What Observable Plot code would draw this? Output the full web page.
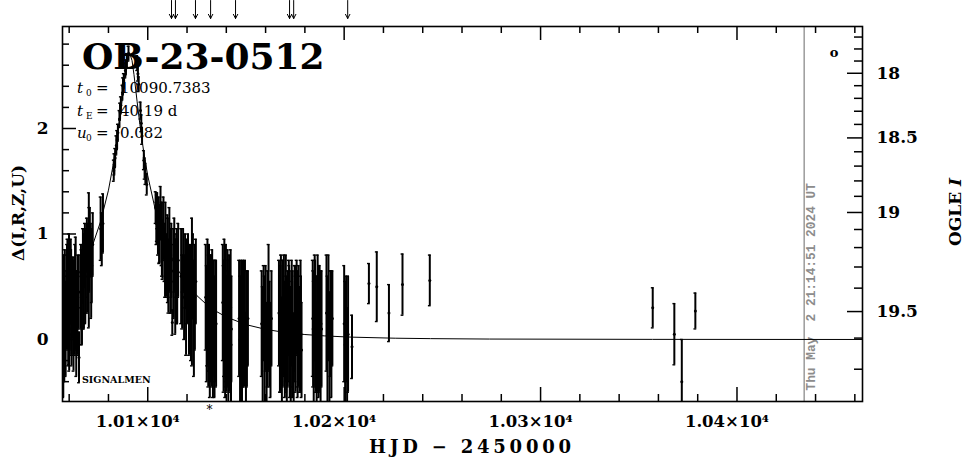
<!DOCTYPE html>
<html><head><meta charset="utf-8">
<script src="https://cdn.jsdelivr.net/npm/d3@7"></script>
<script src="https://cdn.jsdelivr.net/npm/@observablehq/plot@0.6"></script>
<style>html,body{margin:0;padding:0;background:#fff}svg{display:block}</style>
</head><body><div id="chart"></div>
<script>
// ---------- data (HJD-2450000, Delta, error) ----------
const obsT = [
 10056.9,10057.0,10057.3,10057.8,10058.2,10058.6,10059.1,10059.5,10059.9,10060.3,10060.8,10061.2,10061.6,10062.0,10062.5,10062.9,10063.3,10063.8,10064.2,10065.0,
 10065.6,10066.0,10066.5,10067.0,10067.5,10068.0,10068.5,10069.0,10069.5,10070.0,10070.5,10071.0,10071.5,10072.0,
 10076.0,10076.6,10077.2,
 10082.7,10083.4,10084.0,10084.8,10085.6,10086.3,10087.1,10087.8,10088.6,10089.4,10090.2,
 10094.6,10095.4,10096.3,10097.1,10098.0,10098.8,10099.5,
 10104.0,10104.4,10104.8,10105.2,10105.6,10106.0,10106.5,10107.0,10107.5,10108.0,10108.5,10109.0,10109.5,10110.0,10110.5,10111.0,10111.5,10112.0,10112.5,10113.0,10113.5,10114.0,10114.5,10115.0,10115.5,
 10117.0,10117.5,10118.0,10118.5,10119.0,10119.5,10120.0,10120.5,10121.0,10121.5,10122.0,10122.5,10123.0,10123.5,10124.0,10124.5,
 10129.5,10130.0,10130.4,10130.8,10131.2,10131.6,10132.0,10132.4,10132.8,10133.2,10133.6,10134.0,10134.4,10134.8,
 10138.2,10138.6,10139.0,10139.4,10139.8,10140.2,10140.6,10141.0,10141.4,10141.8,10142.2,10142.6,
 10146.5,10147.0,10147.5,10148.0,10148.5,10149.0,10149.5,10150.0,10150.5,10151.0,
 10158.0,10158.5,10159.0,10159.5,10160.0,10160.5,10161.0,10161.5,10162.0,10162.5,10163.0,
 10166.8,10167.3,10167.8,10168.3,10168.8,10169.3,10169.8,10170.3,10170.8,10171.3,10171.8,10172.3,10172.8,10173.3,10173.8,10174.3,10174.8,10175.3,10175.8,10176.3,10176.8,10177.3,10177.8,10178.3,
 10184.0,10184.5,10185.0,10185.5,10186.0,10186.5,10187.0,10187.5,10188.0,10188.5,
 10191.0,10191.5,10192.0,10192.5,10193.0,10193.5,10194.0,
 10200.0,10200.5,10201.0,10201.5,10202.0,
 10204.0,10212.6,10216.6,10222.8,10229.7,10243.6,10357.1,10368.1,10371.9,10378.8,
 10057.5,10058.9,10060.0,10061.0,10062.2,10063.0,10063.6,10064.5,
 10066.2,10067.2,10068.2,10069.2,10070.2,10071.2,
 10104.6,10105.8,10107.2,10108.8,10110.2,10111.8,10113.2,10114.8,
 10130.2,10131.0,10132.2,10133.0,10134.2,
 10138.8,10139.6,10140.8,10141.6,10142.4,
 10167.5,10169.0,10170.5,10172.0,10173.5,10175.0,10176.5,10178.0,
 10184.2,10185.2,10186.2,10187.2,10188.2,
 10083.0,10084.4,10085.9,10087.4,10088.9,10095.0,10096.7,10098.4
];
const obsD = [
 0.35,-0.15,0.20,0.45,0.10,0.30,0.50,0.15,0.38,0.25,0.55,0.05,0.40,0.30,0.48,0.20,0.55,0.35,0.25,-0.17,
 0.45,0.60,0.35,0.70,0.55,0.80,0.65,0.90,0.75,0.75,0.95,0.85,0.70,0.90,
 1.05,0.95,1.10,
 1.60,1.72,1.84,1.96,2.09,2.22,2.34,2.45,2.55,2.64,2.71,
 2.62,2.42,2.17,1.93,1.70,1.57,1.47,
 1.25,1.10,1.22,1.05,1.15,0.95,1.20,1.00,0.85,1.05,0.80,0.95,0.70,0.90,0.60,0.85,0.55,0.75,0.16,0.65,0.80,0.50,0.70,0.55,0.75,
 0.60,0.45,0.75,0.40,0.65,0.30,0.55,0.70,0.35,0.50,0.25,0.45,0.60,0.20,0.40,0.55,
 0.40,0.15,0.45,0.05,0.30,-0.10,0.35,0.10,0.45,-0.05,0.25,0.00,0.30,0.15,
 0.35,0.10,0.45,-0.05,0.25,0.05,0.40,-0.15,0.20,0.00,0.30,0.10,
 0.20,0.00,0.30,-0.10,0.15,0.05,0.25,-0.20,0.10,0.20,
 0.15,-0.05,0.25,0.00,0.20,-0.15,0.10,0.30,0.05,-0.10,0.20,
 0.25,0.05,0.35,-0.10,0.15,0.30,0.00,0.20,-0.15,0.10,0.30,0.05,-0.05,0.25,0.10,-0.20,0.20,0.05,0.30,-0.05,0.15,0.00,0.25,-0.10,
 0.20,-0.05,0.30,0.05,-0.15,0.20,0.00,0.25,-0.10,0.10,
 0.25,0.00,0.30,-0.10,0.15,0.05,0.20,
 0.15,-0.05,0.10,-0.20,0.05,
 -0.07,0.53,0.50,0.25,0.52,0.56,0.30,0.05,-0.40,0.27,
 0.05,0.40,0.10,0.35,0.15,0.40,0.10,0.45,
 0.40,0.50,0.60,0.65,0.85,0.60,
 1.15,1.00,0.95,0.75,0.75,0.65,0.55,0.60,
 0.20,0.25,0.20,0.20,0.10,
 0.20,0.15,0.10,0.25,-0.05,
 0.10,0.20,0.05,0.15,0.00,0.15,0.10,0.05,
 0.10,0.15,0.05,0.10,0.15,
 1.66,1.89,2.16,2.40,2.58,2.52,2.05,1.62
];
const obsE = [
 0.45,0.40,0.50,0.40,0.45,0.35,0.45,0.40,0.62,0.35,0.40,0.30,0.38,0.45,0.30,0.35,0.42,0.30,0.40,0.24,
 0.35,0.30,0.40,0.35,0.45,0.30,0.40,0.25,0.35,0.64,0.30,0.25,0.35,0.30,
 0.30,0.25,0.28,
 0.10,0.09,0.09,0.08,0.08,0.08,0.07,0.07,0.07,0.07,0.07,
 0.07,0.07,0.08,0.08,0.09,0.10,0.10,
 0.15,0.20,0.17,0.25,0.20,0.22,0.25,0.30,0.28,0.30,0.25,0.35,0.30,0.28,0.35,0.40,0.30,0.35,0.12,0.40,0.35,0.45,0.30,0.40,0.35,
 0.45,0.35,0.30,0.40,0.35,0.45,0.40,0.30,0.50,0.40,0.45,0.70,0.40,0.55,0.50,0.40,
 0.50,0.55,0.50,0.50,0.60,0.45,0.45,0.55,0.40,0.50,0.50,0.55,0.45,0.60,
 0.55,0.60,0.50,0.50,0.65,0.55,0.45,0.45,0.60,0.50,0.55,0.50,
 0.55,0.60,0.45,0.55,0.60,0.50,0.50,0.45,0.55,0.45,
 0.50,0.55,0.45,0.60,0.50,0.50,0.55,0.60,0.50,0.45,0.45,
 0.50,0.55,0.45,0.50,0.60,0.50,0.55,0.60,0.50,0.55,0.45,0.60,0.55,0.50,0.55,0.45,0.50,0.55,0.45,0.50,0.55,0.50,0.50,0.45,
 0.55,0.60,0.50,0.55,0.50,0.60,0.55,0.45,0.50,0.55,
 0.55,0.60,0.50,0.55,0.50,0.60,0.45,
 0.55,0.60,0.50,0.50,0.55,
 0.30,0.19,0.33,0.27,0.29,0.24,0.19,0.29,0.40,0.17,
 0.45,0.50,0.40,0.50,0.45,0.50,0.45,0.35,
 0.45,0.40,0.45,0.40,0.40,0.40,
 0.22,0.28,0.35,0.35,0.40,0.40,0.35,0.45,
 0.45,0.55,0.60,0.55,0.50,
 0.55,0.60,0.55,0.50,0.55,
 0.60,0.55,0.55,0.55,0.55,0.55,0.55,0.55,
 0.55,0.60,0.55,0.60,0.50,
 0.10,0.09,0.08,0.08,0.07,0.07,0.08,0.10
];
// model curve
const modelT = [10056.6,10060,10064,10068,10072,10076,10080,10083,10086,10088,10089.5,10090.74,10092,10093,10094.6,10096,10098,10100,10104,10108,10112,10116,10120,10125,10130,10135,10140,10150,10160,10170,10180,10190,10200,10204,10226,10244,10274,10357,10464];
const modelD = [0.418,0.491,0.597,0.729,0.898,1.118,1.415,1.716,2.115,2.435,2.647,2.718,2.645,2.510,2.254,2.038,1.772,1.553,1.217,0.972,0.786,0.642,0.528,0.416,0.331,0.265,0.213,0.141,0.096,0.066,0.047,0.034,0.025,0.022,0.012,0.008,0.004,0.001,0.000];
// arrows on top, star, current time
const arrowT = [10112.1,10114.1,10124.3,10132.0,10144.7,10172.2,10174.3,10201.8];
const starT = [10131.5];
const nowT = [10434.2];
const nowLabel = "Thu May  2 21:14:51 2024 UT";
// axes
const xMinor = [10060,10080,10120,10140,10160,10180,10220,10240,10260,10280,10320,10340,10360,10380,10420,10440,10460];
const xMajor = [10100,10200,10300,10400];
const xMajorLabels = ["1.01×10⁴","1.02×10⁴","1.03×10⁴","1.04×10⁴"];
const yMinor = [-0.4,-0.2,0.2,0.4,0.6,0.8,1.2,1.4,1.6,1.8,2.2,2.4,2.6,2.8];
const yMajor = [0,1,2];
const iMinor = [17.7,17.8,17.9,18.1,18.2,18.3,18.4,18.6,18.7,18.8,18.9,19.1,19.2,19.3,19.4,19.6,19.7];
const iMajor = [18,18.5,19,19.5];
const iMajorLabels = ["18","18.5","19","19.5"];
// OGLE I <-> Delta relation (source / blend flux relative to I = 19.5)
const iRef = 19.5, fSrc = 0.3333, fBlend = 0.5747;
const iToDelta = I => 2.5*Math.log10((Math.pow(10,-0.4*(I-iRef)) - fBlend)/fSrc);

// ---------- layout ----------
const W = 965, H = 459, mL = 62, mR = 103, mT = 26, mB = 58;
const xDom = [10056.6, 10463.9], yDom = [-0.588, 2.967];
const dxPx = (xDom[1]-xDom[0])/(W-mL-mR);
const dyPx = (yDom[1]-yDom[0])/(H-mT-mB);

const obs = obsT.map((t,i)=>({t, d: obsD[i], e: obsE[i]}));
const caps = obs.flatMap(o=>[{t:o.t, y:o.d-o.e},{t:o.t, y:o.d+o.e}]);
const model = modelT.map((t,i)=>({t, d: modelD[i]}));

const FONT = "DejaVu Serif";
const chart = Plot.plot({
  width: W, height: H,
  marginLeft: mL, marginRight: mR, marginTop: mT, marginBottom: mB,
  x: {domain: xDom, axis: null},
  y: {domain: yDom, axis: null},
  style: {fontFamily: FONT, background: "#fff", overflow: "visible"},
  marks: [
    Plot.ruleX(nowT, {x: d=>d, stroke: "#8c8c8c", strokeWidth: 1.3}),
    Plot.text(nowT, {x: d=>d, y: yDom[0], text: ()=>nowLabel, rotate: -90, textAnchor: "start", dx: 7, dy: -11, fill: "#8c8c8c", fontFamily: "Liberation Mono", fontWeight: "bold", fontSize: 12.8}),
    Plot.line(model, {x: "t", y: "d", stroke: "#000", strokeWidth: 1, clip: true}),
    Plot.ruleX(obs, {x: "t", y1: d=>d.d-d.e, y2: d=>d.d+d.e, stroke: "#000", strokeWidth: 2, clip: true}),
    Plot.ruleY(caps, {y: "y", x1: d=>d.t-1.4*dxPx, x2: d=>d.t+1.4*dxPx, stroke: "#000", strokeWidth: 1.4, clip: true}),
    Plot.dot(obs, {x: "t", y: "d", r: 1.5, fill: "#000", stroke: null, clip: true}),
    // x ticks (bottom + top), inward
    Plot.ruleX(xMinor, {x: d=>d, y1: yDom[0], y2: yDom[0]+7*dyPx, stroke: "#000", strokeWidth: 1.5}),
    Plot.ruleX(xMajor, {x: d=>d, y1: yDom[0], y2: yDom[0]+14*dyPx, stroke: "#000", strokeWidth: 1.5}),
    Plot.ruleX(xMinor, {x: d=>d, y1: yDom[1]-7*dyPx, y2: yDom[1], stroke: "#000", strokeWidth: 1.5}),
    Plot.ruleX(xMajor, {x: d=>d, y1: yDom[1]-14*dyPx, y2: yDom[1], stroke: "#000", strokeWidth: 1.5}),
    // left ticks
    Plot.ruleY(yMinor, {y: d=>d, x1: xDom[0], x2: xDom[0]+7*dxPx, stroke: "#000", strokeWidth: 1.5}),
    Plot.ruleY(yMajor, {y: d=>d, x1: xDom[0], x2: xDom[0]+14*dxPx, stroke: "#000", strokeWidth: 1.5}),
    // right ticks (OGLE I)
    Plot.ruleY(iMinor, {y: iToDelta, x1: xDom[1]-8*dxPx, x2: xDom[1], stroke: "#000", strokeWidth: 1.5, clip: true}),
    Plot.ruleY(iMajor, {y: iToDelta, x1: xDom[1]-15*dxPx, x2: xDom[1], stroke: "#000", strokeWidth: 1.5}),
    Plot.frame({stroke: "#000", strokeWidth: 1.6}),
    // tick labels
    Plot.text(xMajor, {x: d=>d, y: yDom[0], text: (d,i)=>xMajorLabels[i], dy: 20, dx: -10, fontSize: 16.5, fontWeight: "bold", fill: "#000"}),
    Plot.text(yMajor, {x: xDom[0], y: d=>d, text: d=>String(d), dx: -14, textAnchor: "end", fontSize: 17, fontWeight: "bold", fill: "#000"}),
    Plot.text(iMajor, {x: xDom[1], y: iToDelta, text: (d,i)=>iMajorLabels[i], dx: 14, textAnchor: "start", fontSize: 17, fontWeight: "bold", fill: "#000"}),
    // top arrows
    Plot.arrow(arrowT, {x1: d=>d, x2: d=>d, y1: yDom[1]+26*dyPx, y2: yDom[1]+8*dyPx, stroke: "#000", strokeWidth: 1, headLength: 7, headAngle: 55}),
    Plot.text(starT, {x: d=>d, y: yDom[0], text: ()=>"*", dy: 9, fontSize: 12, fill: "#000"}),
    Plot.text(["o"], {frameAnchor: "top-right", dx: -24, dy: 21, fontSize: 13, fontWeight: "bold", fill: "#000"})
  ]
});
document.getElementById("chart").appendChild(chart);

// ---------- annotation text ----------
const svg = d3.select(chart);
const g = svg.append("g").attr("font-family", FONT).attr("fill", "#000").attr("text-anchor", "start");
g.append("text").attr("x", mL+20).attr("y", mT+43).attr("font-size", 36).attr("font-weight", "bold").text("OB-23-0512");
function param(y, sym, sub, val){
  const t = g.append("text").attr("y", y).attr("font-size", 15);
  t.append("tspan").attr("x", mL+15).attr("font-style", "italic").text(sym);
  t.append("tspan").attr("x", mL+24).attr("dy", 3).attr("font-size", 9).text(sub);
  t.append("tspan").attr("x", mL+34).attr("dy", -3).text("=");
  t.append("tspan").attr("x", mL+58).text(val);
}
param(mT+67, "t", "0", "10090.7383");
param(mT+90, "t", "E", "40.19 d");
param(mT+112, "u", "0", "0.082");
g.append("text").attr("x", mL+20).attr("y", H-mB-18).attr("font-size", 9.5).attr("font-weight", "bold").text("SIGNALMEN");
g.append("text").attr("transform", `translate(18,${mT+187})rotate(-90)`).attr("text-anchor", "middle").attr("dominant-baseline", "central").attr("font-size", 17).attr("font-weight", "bold").text("Δ(I,R,Z,U)");
const og = g.append("text").attr("transform", `translate(955,${mT+186})rotate(-90)`).attr("text-anchor", "middle").attr("dominant-baseline", "central").attr("font-size", 17).attr("font-weight", "bold");
og.append("tspan").text("OGLE ");
og.append("tspan").attr("font-style", "italic").text("I");
g.append("text").attr("x", 472).attr("y", 453).attr("text-anchor", "middle").attr("font-size", 18).attr("font-weight", "bold").attr("letter-spacing", 3.8).style("white-space", "pre").text("HJD − 2450000");
</script>
</body></html>
